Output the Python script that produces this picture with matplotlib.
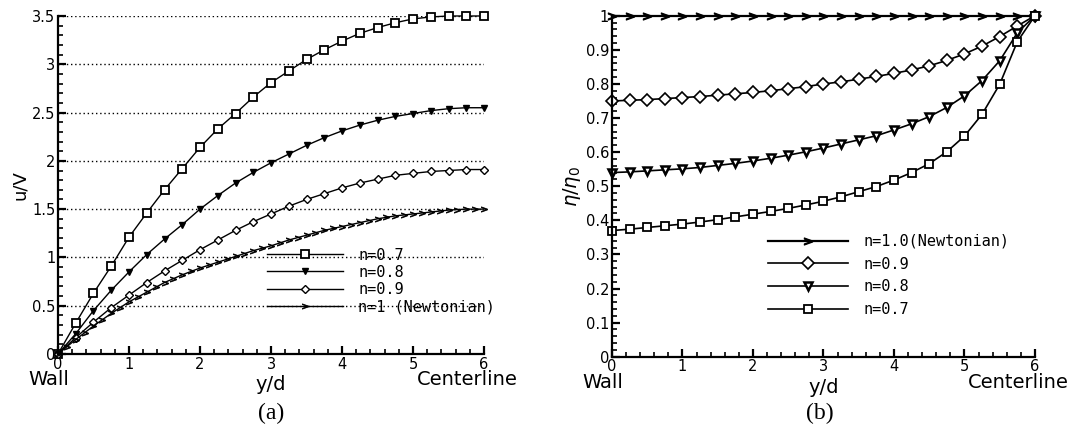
import numpy as np
import matplotlib
matplotlib.use("Agg")
import matplotlib.pyplot as plt
from matplotlib.ticker import MultipleLocator, FuncFormatter

# --- DATA ---
# (a) velocity profiles u/V against y/d, markers every 0.25
x_q = np.arange(25) * 0.25
u_n07 = [0.0, 0.32, 0.63, 0.91, 1.21, 1.46, 1.70, 1.92, 2.14, 2.33, 2.49, 2.66, 2.81,
         2.93, 3.05, 3.15, 3.24, 3.32, 3.38, 3.43, 3.47, 3.49, 3.50, 3.50, 3.50]
u_n08 = [0.0, 0.21, 0.45, 0.66, 0.85, 1.03, 1.19, 1.34, 1.50, 1.64, 1.77, 1.88, 1.98,
         2.07, 2.16, 2.24, 2.31, 2.37, 2.42, 2.46, 2.49, 2.52, 2.54, 2.55, 2.55]
u_n09 = [0.0, 0.17, 0.33, 0.48, 0.61, 0.74, 0.86, 0.97, 1.08, 1.18, 1.28, 1.37, 1.45,
         1.53, 1.60, 1.66, 1.72, 1.77, 1.81, 1.85, 1.87, 1.89, 1.90, 1.91, 1.91]
# Newtonian profile is sampled more finely
x_newt = np.arange(49) * 0.125
u_n10 = [0.0, 0.075, 0.15, 0.22, 0.29, 0.355, 0.42, 0.48, 0.54, 0.59, 0.64, 0.69, 0.74,
         0.78, 0.82, 0.855, 0.89, 0.92, 0.95, 0.98, 1.01, 1.04, 1.07, 1.095, 1.12, 1.15,
         1.18, 1.205, 1.23, 1.255, 1.28, 1.30, 1.32, 1.34, 1.36, 1.38, 1.40, 1.415, 1.43,
         1.44, 1.45, 1.46, 1.47, 1.48, 1.49, 1.495, 1.50, 1.50, 1.50]

# (b) viscosity ratio eta/eta0 against y/d
eta_n10 = [1.0] * 25
eta_n09 = [0.750, 0.752, 0.754, 0.757, 0.760, 0.763, 0.767, 0.771, 0.775, 0.780, 0.786,
           0.792, 0.800, 0.806, 0.814, 0.822, 0.831, 0.841, 0.853, 0.869, 0.888, 0.911,
           0.939, 0.970, 1.0]
eta_n08 = [0.540, 0.542, 0.545, 0.548, 0.551, 0.555, 0.561, 0.567, 0.574, 0.582, 0.591,
           0.601, 0.612, 0.624, 0.636, 0.648, 0.665, 0.683, 0.704, 0.731, 0.765, 0.810,
           0.868, 0.950, 1.0]
eta_n07 = [0.370, 0.374, 0.379, 0.384, 0.389, 0.395, 0.402, 0.410, 0.418, 0.426, 0.435,
           0.445, 0.456, 0.469, 0.484, 0.499, 0.518, 0.540, 0.566, 0.601, 0.647, 0.711,
           0.799, 0.924, 1.0]

labels_a = ["n=0.7", "n=0.8", "n=0.9", "n=1 (Newtonian)"]
labels_b = ["n=1.0(Newtonian)", "n=0.9", "n=0.8", "n=0.7"]

# --- FIGURE ---
fig = plt.figure(figsize=(10.86, 4.38), dpi=100)
ax_a = fig.add_axes([0.0534, 0.1918, 0.3923, 0.7717])
ax_b = fig.add_axes([0.5635, 0.1856, 0.3895, 0.7785])

tick_font = {"family": "DejaVu Sans", "size": 10.5}
legend_font = {"family": "DejaVu Sans Mono", "size": 11}


def trim(v, pos):
    s = f"{v:.1f}"
    return s[:-2] if s.endswith(".0") else s


def style_axes(ax, ymax, ymajor, yminor):
    ax.set_xlim(0, 6)
    ax.set_ylim(0, ymax)
    for side in ("top", "right"):
        ax.spines[side].set_visible(False)
    for side in ("left", "bottom"):
        ax.spines[side].set_linewidth(1.6)
    ax.xaxis.set_major_locator(MultipleLocator(1))
    ax.xaxis.set_minor_locator(MultipleLocator(0.2))
    ax.yaxis.set_major_locator(MultipleLocator(ymajor))
    ax.yaxis.set_minor_locator(MultipleLocator(yminor))
    ax.yaxis.set_major_formatter(FuncFormatter(trim))
    ax.tick_params(which="major", direction="in", length=6, width=1.6, pad=2)
    ax.tick_params(which="minor", direction="in", length=3.5, width=1.2)
    for lab in ax.get_xticklabels() + ax.get_yticklabels():
        lab.set_fontfamily(tick_font["family"])
        lab.set_fontsize(tick_font["size"])
    # text under the x axis
    ax.text(-0.07, -0.048, "Wall", transform=ax.transAxes, fontsize=14,
            ha="left", va="top")
    ax.text(0.5, -0.062, "y/d", transform=ax.transAxes, fontsize=14,
            ha="center", va="top")
    ax.text(1.08, -0.048, "Centerline", transform=ax.transAxes, fontsize=14,
            ha="right", va="top")


# --- (a) VELOCITY ---
style_axes(ax_a, 3.5, 0.5, 0.1)
for g in np.arange(0.5, 3.51, 0.5):
    ax_a.axhline(g, color="black", lw=1.0, ls=(0, (1, 2)), zorder=0)

ax_a.plot(x_q, u_n07, "-", color="black", lw=1, marker="s", ms=6,
          mfc="white", mec="black", mew=1.3, label=labels_a[0], clip_on=False)
ax_a.plot(x_q, u_n08, "-", color="black", lw=1, marker="v", ms=5,
          mfc="black", mec="black", mew=1, label=labels_a[1], clip_on=False)
ax_a.plot(x_q, u_n09, "-", color="black", lw=1, marker="D", ms=4,
          mfc="white", mec="black", mew=1, label=labels_a[2], clip_on=False)
ax_a.plot(x_newt, u_n10, "-", color="black", lw=1, marker="$>$", ms=4.5,
          mfc="black", mec="black", mew=0.5, label=labels_a[3], clip_on=False)
ax_a.set_ylabel("u/V", fontsize=13, labelpad=2)

leg_a = ax_a.legend(loc="upper left", bbox_to_anchor=(0.49, 0.315), frameon=False,
                    prop=legend_font, handlelength=5.0, handletextpad=1.0,
                    labelspacing=0.15, borderpad=0, borderaxespad=0, numpoints=1)

# --- (b) VISCOSITY ---
style_axes(ax_b, 1.0, 0.1, 0.02)
ax_b.plot(x_q, eta_n10, "-", color="black", lw=1.6, marker="$>$", ms=6,
          mfc="black", mec="black", mew=0.8, label=labels_b[0], clip_on=False)
ax_b.plot(x_q, eta_n09, "-", color="black", lw=1.2, marker="D", ms=6.5,
          mfc="white", mec="black", mew=1.2, label=labels_b[1], clip_on=False)
ax_b.plot(x_q, eta_n08, "-", color="black", lw=1.2, marker="v", ms=6,
          mfc="white", mec="black", mew=1.8, label=labels_b[2], clip_on=False)
ax_b.plot(x_q, eta_n07, "-", color="black", lw=1.2, marker="s", ms=6,
          mfc="white", mec="black", mew=1.3, label=labels_b[3], clip_on=False)
ax_b.set_ylabel(r"$\eta/\eta_0$", fontsize=14, labelpad=2)

leg_b = ax_b.legend(loc="upper left", bbox_to_anchor=(0.37, 0.36), frameon=False,
                    prop=legend_font, handlelength=5.2, handletextpad=1.0,
                    labelspacing=0.5, borderpad=0, borderaxespad=0, numpoints=1)

# --- PANEL CAPTIONS ---
fig.text(0.250, 0.057, "(a)", fontsize=17, family="Liberation Serif",
         ha="center", va="center")
fig.text(0.755, 0.057, "(b)", fontsize=17, family="Liberation Serif",
         ha="center", va="center")

fig.savefig("out.png", dpi=100)
plt.close(fig)
